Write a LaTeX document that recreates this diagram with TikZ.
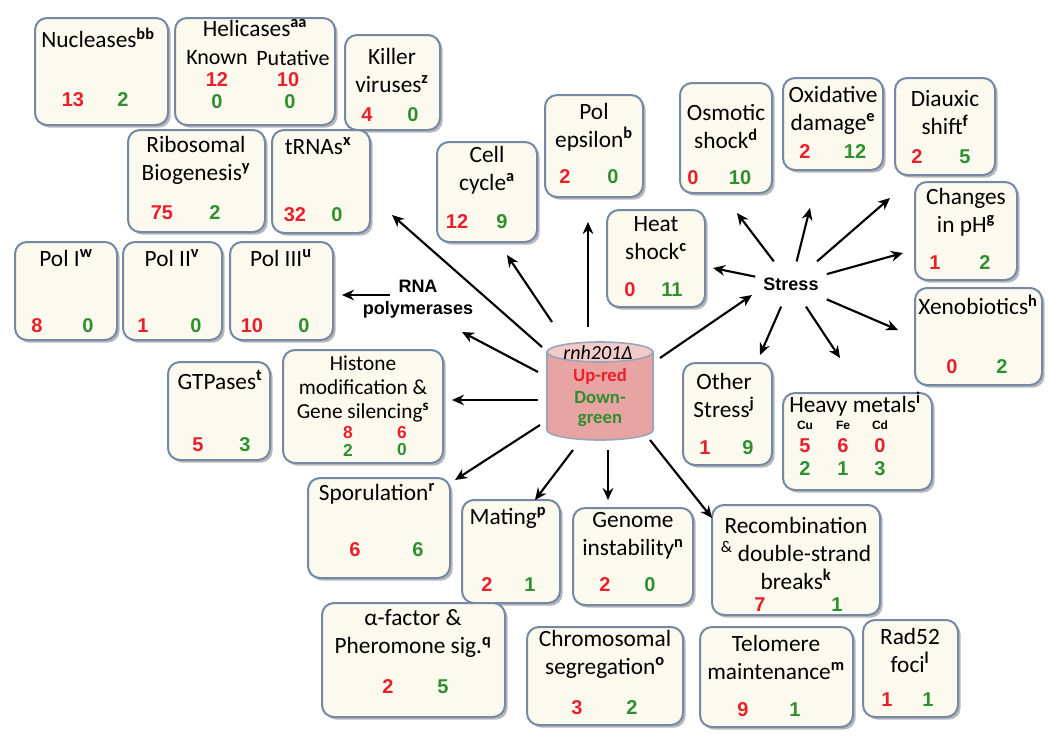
\documentclass[tikz,border=0pt]{standalone}
\usepackage{fontspec}
\setmainfont{Carlito}
\newfontfamily\numfont{Liberation Sans}
\usetikzlibrary{arrows.meta,shadows,fit}
\definecolor{boxc}{HTML}{7589A6}
\definecolor{boxf}{HTML}{FCFAEE}
\definecolor{upc}{HTML}{E8202A}
\definecolor{dnc}{HTML}{2F8F2F}
\definecolor{cylbody}{HTML}{E8A3A3}
\definecolor{cyltop}{HTML}{F2CACA}
\definecolor{cylline}{HTML}{9AA5B5}
\newcommand\sps[1]{\textsuperscript{\bfseries #1}}
\newcommand\bx[5]{\node[box, fit={(#2,#3) (#4,#5)}] (#1) {};}
\tikzset{
  box/.style={draw=boxc, line width=1.5pt, fill=boxf, rounded corners=9pt, inner sep=0pt,
    drop shadow={shadow xshift=2pt, shadow yshift=-2pt, fill=black!55, opacity=0.5}},
  ttl/.style={font=\fontsize{17.5}{21}\selectfont, align=center, inner sep=0pt},
  ttlk/.style={font=\fontsize{16.5}{18}\selectfont, align=center, inner sep=0pt},
  ttls/.style={font=\fontsize{16}{18}\selectfont, align=center, inner sep=0pt},
  up/.style={font=\numfont\bfseries\fontsize{15}{16}\selectfont, text=upc, inner sep=0pt},
  dn/.style={font=\numfont\bfseries\fontsize{15}{16}\selectfont, text=dnc, inner sep=0pt},
  ups/.style={font=\numfont\bfseries\fontsize{13}{14}\selectfont, text=upc, inner sep=0pt},
  dns/.style={font=\numfont\bfseries\fontsize{13}{14}\selectfont, text=dnc, inner sep=0pt},
  met/.style={font=\numfont\bfseries\fontsize{9}{10}\selectfont, inner sep=0pt},
  lbl/.style={font=\numfont\bfseries\fontsize{13.5}{16.5}\selectfont, align=center, inner sep=0pt},
  arr/.style={-{Stealth[length=9pt,width=8pt]}, line width=1.6pt},
  cyltxt/.style={font=\bfseries\fontsize{14}{15}\selectfont, inner sep=0pt},
}
\begin{document}
\begin{tikzpicture}[x=0.75pt,y=-0.75pt]
\useasboundingbox (0,0) rectangle (1050,753);
\fill[white] (0,0) rectangle (1050,753);

% ---- boxes
\bx{nuc}{35}{18}{168}{125}
\node[ttl] (nuc-t) at (98,38) {Nucleases\sps{bb}};
\node[up] (nuc-r) at (73,100) {13};
\node[dn] (nuc-g) at (123,100) {2};

\bx{hel}{175}{18}{335}{125}
\node[ttl] (hel-t) at (255,28) {Helicases\sps{aa}};
\node[ttlk] (hel-k) at (217,58) {Known};
\node[ttlk] (hel-p) at (293,58) {Putative};
\node[up] (hel-r1) at (217,80) {12};
\node[up] (hel-r2) at (288,80) {10};
\node[dn] (hel-g1) at (217,102) {0};
\node[dn] (hel-g2) at (290,102) {0};

\bx{kil}{345}{35}{440}{130}
\node[ttl] (kil-t) at (392,70) {Killer\\viruses\sps{z}};
\node[up] (kil-r) at (367,115) {4};
\node[dn] (kil-g) at (413,115) {0};

\bx{rib}{128}{130}{265}{232}
\node[ttl] (rib-t) at (196,160) {Ribosomal\\Biogenesis\sps{y}};
\node[up] (rib-r) at (162,213) {75};
\node[dn] (rib-g) at (215,213) {2};

\bx{trn}{272}{130}{370}{233}
\node[ttl] (trn-t) at (318,146) {tRNAs\sps{x}};
\node[up] (trn-r) at (295,215) {32};
\node[dn] (trn-g) at (337,215) {0};

\bx{cel}{437}{142}{537}{242}
\node[ttl] (cel-t) at (487,170) {Cell\\cycle\sps{a}};
\node[up] (cel-r) at (457,222) {12};
\node[dn] (cel-g) at (502,222) {9};

\bx{pol}{545}{95}{643}{197}
\node[ttl] (pol-t) at (594,127) {Pol\\epsilon\sps{b}};
\node[up] (pol-r) at (565,177) {2};
\node[dn] (pol-g) at (613,177) {0};

\bx{osm}{680}{83}{772}{193}
\node[ttl] (osm-t) at (726,127) {Osmotic\\shock\sps{d}};
\node[up] (osm-r) at (693,178) {0};
\node[dn] (osm-g) at (740,178) {10};

\bx{oxi}{783}{78}{883}{170}
\node[ttl] (oxi-t) at (833,110) {Oxidative\\damage\sps{e}};
\node[up] (oxi-r) at (805,152) {2};
\node[dn] (oxi-g) at (855,152) {12};

\bx{dia}{895}{78}{995}{175}
\node[ttl] (dia-t) at (945,113) {Diauxic\\shift\sps{f}};
\node[up] (dia-r) at (917,157) {2};
\node[dn] (dia-g) at (965,157) {5};

\bx{hea}{607}{210}{705}{307}
\node[ttl] (hea-t) at (656,238) {Heat\\shock\sps{c}};
\node[up] (hea-r) at (630,290) {0};
\node[dn] (hea-g) at (672,290) {11};

\bx{cph}{915}{182}{1017}{280}
\node[ttl] (cph-t) at (966,212) {Changes\\in pH\sps{g}};
\node[up] (cph-r) at (935,263) {1};
\node[dn] (cph-g) at (985,263) {2};

\bx{xen}{915}{288}{1042}{385}
\node[ttl] (xen-t) at (978,305) {Xenobiotics\sps{h}};
\node[up] (xen-r) at (952,367) {0};
\node[dn] (xen-g) at (1002,367) {2};

\bx{p1}{15}{242}{117}{340}
\node[ttl] (p1-t) at (66,258) {Pol I\sps{w}};
\node[up] (p1-r) at (37,326) {8};
\node[dn] (p1-g) at (88,326) {0};

\bx{p2}{123}{242}{222}{340}
\node[ttl] (p2-t) at (172,258) {Pol II\sps{v}};
\node[up] (p2-r) at (143,326) {1};
\node[dn] (p2-g) at (196,326) {0};

\bx{p3}{230}{242}{333}{340}
\node[ttl] (p3-t) at (281,258) {Pol III\sps{u}};
\node[up] (p3-r) at (252,326) {10};
\node[dn] (p3-g) at (304,326) {0};

\bx{gtp}{168}{362}{270}{460}
\node[ttl] (gtp-t) at (220,380) {GTPases\sps{t}};
\node[up] (gtp-r) at (198,445) {5};
\node[dn] (gtp-g) at (245,445) {3};

\bx{his}{283}{350}{443}{463}
\node[ttls] (his-t) at (363,389) {Histone\\modification \&\\Gene silencing\sps{s}};
\node[ups] (his-r1) at (348,433) {8};
\node[ups] (his-r2) at (402,433) {6};
\node[dns] (his-g1) at (348,450) {2};
\node[dns] (his-g2) at (402,450) {0};

\bx{spo}{308}{478}{450}{578}
\node[ttl] (spo-t) at (377,494) {Sporulation\sps{r}};
\node[up] (spo-r) at (355,550) {6};
\node[dn] (spo-g) at (418,550) {6};

\bx{mat}{462}{500}{560}{603}
\node[ttl] (mat-t) at (508,518) {Mating\sps{p}};
\node[up] (mat-r) at (487,585) {2};
\node[dn] (mat-g) at (530,585) {1};

\bx{gen}{573}{508}{693}{605}
\node[ttl] (gen-t) at (633,536) {Genome\\instability\sps{n}};
\node[up] (gen-r) at (605,585) {2};
\node[dn] (gen-g) at (650,585) {0};

\bx{rec}{712}{505}{880}{615}
\node[ttl] (rec-t) at (796,553) {Recombination\\\textsuperscript{\&} double-strand\\breaks\sps{k}};
\node[up] (rec-r) at (760,605) {7};
\node[dn] (rec-g) at (837,605) {1};

\bx{oth}{683}{363}{772}{465}
\node[ttl] (oth-t) at (724,395) {Other\\Stress\sps{j}};
\node[up] (oth-r) at (705,448) {1};
\node[dn] (oth-g) at (748,448) {9};

\bx{hvy}{783}{393}{932}{490}
\node[ttl] (hvy-t) at (855,404) {Heavy metals\sps{i}};
\node[met] (hvy-cu) at (805,425) {Cu};
\node[met] (hvy-fe) at (843,425) {Fe};
\node[met] (hvy-cd) at (880,425) {Cd};
\node[up] (hvy-r1) at (805,446) {5};
\node[up] (hvy-r2) at (843,446) {6};
\node[up] (hvy-r3) at (880,446) {0};
\node[dn] (hvy-g1) at (805,469) {2};
\node[dn] (hvy-g2) at (843,469) {1};
\node[dn] (hvy-g3) at (880,469) {3};

\bx{alp}{322}{603}{505}{717}
\node[ttl] (alp-t) at (413,634) {α-factor \&\\Pheromone sig.\sps{q}};
\node[up] (alp-r) at (388,687) {2};
\node[dn] (alp-g) at (443,687) {5};

\bx{chr}{527}{627}{683}{725}
\node[ttl] (chr-t) at (605,654) {Chromosomal\\segregation\sps{o}};
\node[up] (chr-r) at (577,708) {3};
\node[dn] (chr-g) at (632,708) {2};

\bx{tel}{700}{627}{853}{727}
\node[ttl] (tel-t) at (776,657) {Telomere\\maintenance\sps{m}};
\node[up] (tel-r) at (743,710) {9};
\node[dn] (tel-g) at (795,710) {1};

\bx{rad}{863}{620}{958}{717}
\node[ttl] (rad-t) at (910,650) {Rad52\\foci\sps{l}};
\node[up] (rad-r) at (887,700) {1};
\node[dn] (rad-g) at (928,700) {1};

% ---- labels
\node[lbl] (rna) at (418,299) {RNA\\polymerases};
\node[lbl, inner xsep=6pt, inner ysep=12pt] (stress) at (791,284) {Stress};

% ---- cylinder
\filldraw[fill=cylbody, draw=cylline, line width=1.2pt]
  (547,352) -- (547,430) arc[start angle=180, end angle=360, x radius=39.75pt, y radius=7.5pt] -- (653,352) -- cycle;
\filldraw[fill=cyltop, draw=cylline, line width=1.2pt] (600,352) ellipse[x radius=39.75pt, y radius=7.5pt];
\node[minimum width=80pt, minimum height=75pt, inner sep=0pt] (cyl) at (600,390) {};
\node[font=\itshape\fontsize{15}{16}\selectfont, inner sep=0pt] (cyl-n) at (598,353) {rnh201Δ};
\node[cyltxt, text=upc] (cyl-u) at (600,376) {Up-red};
\node[cyltxt, text=dnc] (cyl-d1) at (600,398) {Down-};
\node[cyltxt, text=dnc] (cyl-d2) at (600,420) {green};

% ---- arrows from the cylinder
\coordinate (tA) at (542,347); \coordinate (hA) at (392,215);
\coordinate (tB) at (552,322); \coordinate (hB) at (507,255);
\coordinate (tC) at (588,327); \coordinate (hC) at (588,222);
\coordinate (tD) at (538,372); \coordinate (hD) at (462,332);
\coordinate (tE) at (538,400); \coordinate (hE) at (452,400);
\coordinate (tF) at (540,425); \coordinate (hF) at (455,480);
\coordinate (tG) at (573,450); \coordinate (hG) at (535,500);
\coordinate (tH) at (608,450); \coordinate (hH) at (608,500);
\coordinate (tI) at (650,440); \coordinate (hI) at (712,518);
\coordinate (tJ) at (660,358); \coordinate (hJ) at (752,295);
\draw[arr] (tA) -- (hA);
\draw[arr] (tB) -- (hB);
\draw[arr] (tC) -- (hC);
\draw[arr] (tD) -- (hD);
\draw[arr] (tE) -- (hE);
\draw[arr] (tF) -- (hF);
\draw[arr] (tG) -- (hG);
\draw[arr] (tH) -- (hH);
\draw[arr] (tI) -- (hI);
\draw[arr] (tJ) -- (hJ);
\coordinate (tR) at (390,295);
\coordinate (hR) at (342,295);
\draw[arr] (tR) -- (hR);

% ---- arrows from Stress
\coordinate (s1) at (713,268);
\coordinate (s2) at (737,213);
\coordinate (s3) at (810,208);
\coordinate (s4) at (890,198);
\coordinate (s5) at (903,253);
\coordinate (s6) at (898,330);
\coordinate (s7) at (840,358);
\coordinate (s8) at (760,355);
\foreach \s in {s1,s2,s3,s4,s5,s6,s7,s8} \draw[arr] (stress) -- (\s);
\end{tikzpicture}
\end{document}
